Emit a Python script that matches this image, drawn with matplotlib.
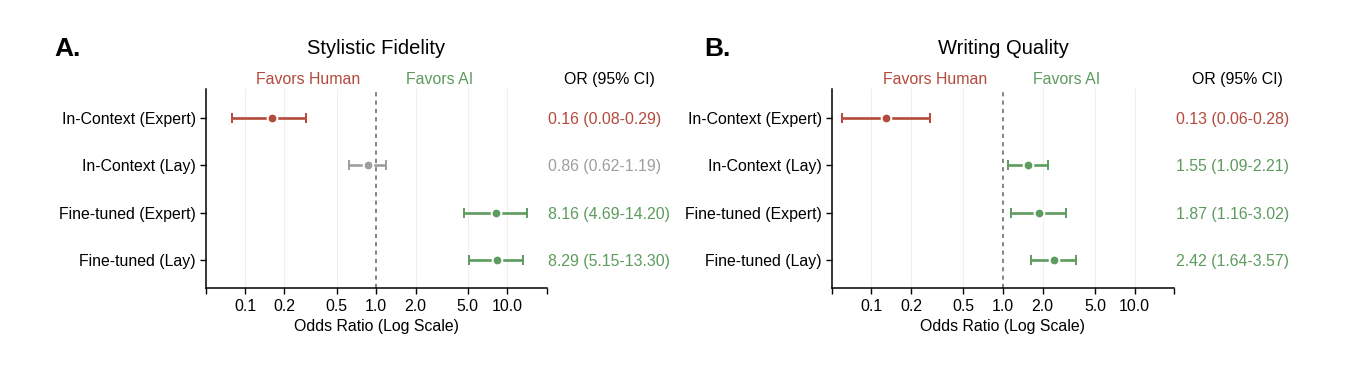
import matplotlib
matplotlib.use("Agg")
import matplotlib.pyplot as plt
import matplotlib.transforms as mtransforms

plt.rcParams['font.family'] = ['Liberation Sans', 'DejaVu Sans']

# ---- data ----
row_labels = ["In-Context (Expert)", "In-Context (Lay)", "Fine-tuned (Expert)", "Fine-tuned (Lay)"]

panel_titles = ["Stylistic Fidelity", "Writing Quality"]
panel_letters = ["A.", "B."]

sf_or = [0.16, 0.86, 8.16, 8.29]
sf_lo = [0.08, 0.62, 4.69, 5.15]
sf_hi = [0.29, 1.19, 14.20, 13.30]

wq_or = [0.13, 1.55, 1.87, 2.42]
wq_lo = [0.06, 1.09, 1.16, 1.64]
wq_hi = [0.28, 2.21, 3.02, 3.57]

xtick_vals = [0.1, 0.2, 0.5, 1.0, 2.0, 5.0, 10.0]
xtick_labels = ["0.1", "0.2", "0.5", "1.0", "2.0", "5.0", "10.0"]

RED = "#B34A3C"
GREEN = "#5E9B5E"
GRAY = "#9E9E9E"

FS = 11.4

W, H = 1369, 365
fig = plt.figure(figsize=(W / 100, H / 100), dpi=100)

def px_axes(left, right, top, bottom):
    return [left / W, 1 - bottom / H, (right - left) / W, (bottom - top) / H]

axes_px = [(205.5, 546.7), (831.7, 1174.3)]
letter_x = [54, 704]
top_px, bot_px = 89.4, 288.3

datasets = [(sf_or, sf_lo, sf_hi), (wq_or, wq_lo, wq_hi)]

for i, (ors, los, his) in enumerate(datasets):
    l, r = axes_px[i]
    ax = fig.add_axes(px_axes(l, r, top_px, bot_px))
    ax.set_xscale('log')
    ax.set_xlim(0.05, 20)
    ax.set_ylim(len(row_labels) - 1 + 0.6, -0.6)

    for xv in xtick_vals:
        if xv != 1.0:
            ax.axvline(xv, color="#efefef", lw=0.8, zorder=0)
    ax.axvline(1.0, color="#707070", lw=1.2, ls=(0, (2.5, 2.5)), zorder=1)

    for j, (o, lo, hi) in enumerate(zip(ors, los, his)):
        if hi < 1:
            c = RED
        elif lo > 1:
            c = GREEN
        else:
            c = GRAY
        ax.errorbar([o], [j], xerr=[[o - lo], [hi - o]], fmt='o', color=c,
                    ecolor=c, elinewidth=1.9, capsize=3.4, capthick=1.9,
                    markersize=7, markeredgecolor='white', markeredgewidth=1.4,
                    zorder=3)
        ax.annotate(f"{o:.2f} ({lo:.2f}-{hi:.2f})", xy=(1.0, j),
                    xycoords=('axes fraction', 'data'),
                    xytext=(1.2, 0), textcoords='offset points',
                    ha='left', va='center_baseline', fontsize=FS, color=c)

    ax.set_yticks(range(len(row_labels)))
    ax.set_yticklabels(row_labels, fontsize=FS)
    ax.set_xticks([0.05] + xtick_vals + [20])
    ax.set_xticklabels([""] + xtick_labels + [""], fontsize=FS)
    ax.xaxis.set_minor_locator(matplotlib.ticker.NullLocator())
    ax.tick_params(axis='both', length=4, width=1, color='black', pad=3)
    ax.tick_params(axis='x', pad=4)
    for s in ['top', 'right']:
        ax.spines[s].set_visible(False)
    for s in ['left', 'bottom']:
        ax.spines[s].set_linewidth(1.1)
    ax.set_xlabel("Odds Ratio (Log Scale)", fontsize=FS, labelpad=3)

    # header texts
    trans = mtransforms.blended_transform_factory(ax.transData, ax.transAxes)
    ax.annotate("Favors Human", xy=(1.0, 1.0), xycoords=trans,
                xytext=(-49, 8.2), textcoords='offset points',
                ha='center', va='center_baseline', fontsize=FS, color=RED)
    ax.annotate("Favors AI", xy=(1.0, 1.0), xycoords=trans,
                xytext=(45.5, 8.2), textcoords='offset points',
                ha='center', va='center_baseline', fontsize=FS, color=GREEN)
    ax.annotate("OR (95% CI)", xy=(1.0, 1.0), xycoords='axes fraction',
                xytext=(45.5, 8.2), textcoords='offset points',
                ha='center', va='center_baseline', fontsize=FS, color='black')
    ax.text(0.5, 1 - 47 / H, panel_titles[i], transform=mtransforms.blended_transform_factory(ax.transAxes, fig.transFigure),
            fontsize=14.5, ha='center', va='center_baseline')
    fig.text(letter_x[i] / W, 1 - 47 / H, panel_letters[i], fontsize=19,
             fontweight='bold', ha='left', va='center_baseline')

fig.savefig("out.png", dpi=100)
